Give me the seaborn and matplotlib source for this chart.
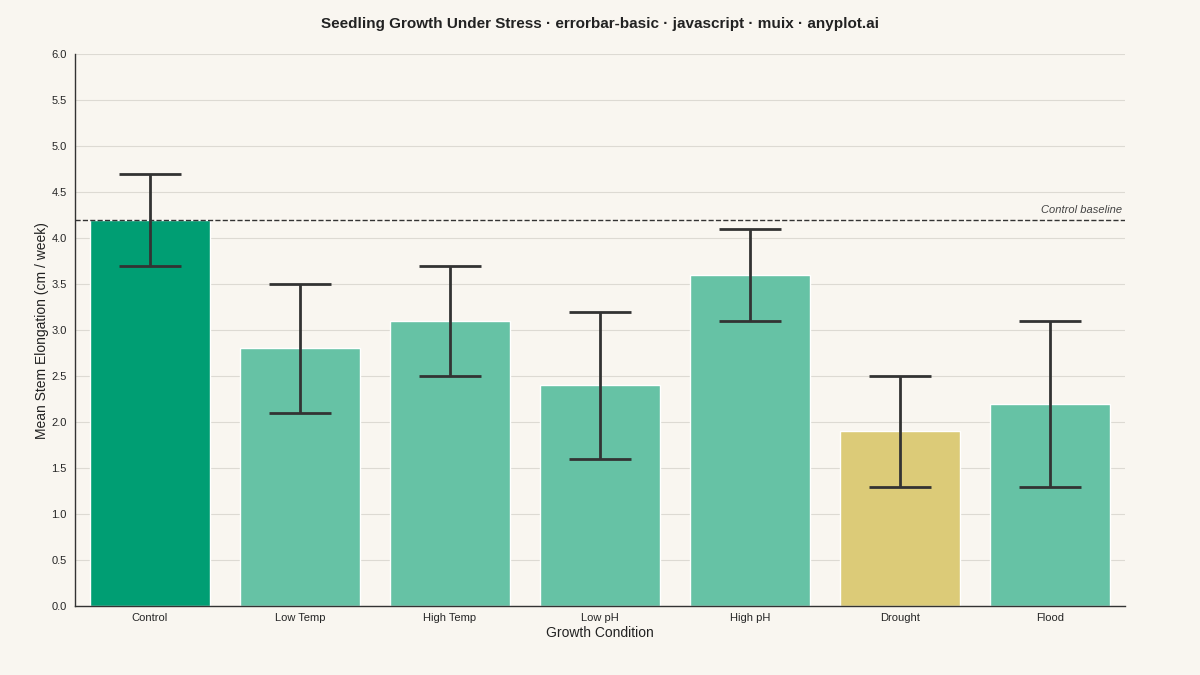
import matplotlib
matplotlib.use('Agg')
import matplotlib.pyplot as plt
import seaborn as sns
import pandas as pd
import numpy as np

conditions = ['Control', 'Low Temp', 'High Temp', 'Low pH', 'High pH', 'Drought', 'Flood']
means = [4.2, 2.8, 3.1, 2.4, 3.6, 1.9, 2.2]
errors = [0.5, 0.7, 0.6, 0.8, 0.5, 0.6, 0.9]
bar_colors = ['#009E73', '#66C2A5', '#66C2A5', '#66C2A5', '#66C2A5', '#DCCB78', '#66C2A5']

bg = '#F9F6F0'
sns.set_theme(style='white')
plt.rcParams['font.family'] = ['Liberation Sans', 'DejaVu Sans']

df = pd.DataFrame({'condition': conditions, 'mean': means, 'err': errors})

fig = plt.figure(figsize=(12, 6.75), dpi=100, facecolor=bg)
ax = fig.add_axes([0.0625, 0.102, 0.875, 0.818])
ax.set_facecolor(bg)

sns.barplot(data=df, x='condition', y='mean', hue='condition', palette=bar_colors,
            legend=False, width=0.8, saturation=1, ax=ax)
ax.errorbar(np.arange(len(conditions)), means, yerr=errors, fmt='none',
            ecolor='#333333', elinewidth=2, capsize=22, capthick=2, zorder=5)

ax.axhline(4.2, color='#333333', linestyle='--', linewidth=1, zorder=4)
ax.text(6.48, 4.25, 'Control baseline', ha='right', va='bottom', fontsize=8,
        style='italic', color='#444444')

ax.set_xlim(-0.5, 6.5)
ax.set_ylim(0, 6.0)
ax.set_yticks(np.arange(0, 6.01, 0.5))
ax.set_yticklabels([f'{v:.1f}' for v in np.arange(0, 6.01, 0.5)], fontsize=8)
ax.yaxis.grid(True, color='#DDDAD3', linewidth=0.8)
ax.set_axisbelow(True)

ax.set_xticks(range(len(conditions)))
ax.set_xticklabels(conditions, fontsize=8)
ax.tick_params(axis='x', which='major', length=0, pad=5)
ax.set_xticks(np.arange(-0.5, 6.6, 1), minor=True)
ax.tick_params(axis='x', which='minor', length=4, color='#333333', direction='out')
ax.tick_params(axis='y', length=4, color='#333333', direction='out', pad=2)

for s in ['top', 'right']:
    ax.spines[s].set_visible(False)
for s in ['left', 'bottom']:
    ax.spines[s].set_color('#333333')
    ax.spines[s].set_linewidth(1)

ax.set_xlabel('Growth Condition', fontsize=10, labelpad=2, color='#222222')
ax.set_ylabel('Mean Stem Elongation (cm / week)', fontsize=10, color='#222222')
ax.yaxis.set_label_coords(-0.025, 0.5)

fig.suptitle('Seedling Growth Under Stress · errorbar-basic · javascript · muix · anyplot.ai',
             fontsize=11, fontweight='bold', y=0.975, color='#222222')

fig.savefig('out.png', dpi=100, facecolor=bg)
